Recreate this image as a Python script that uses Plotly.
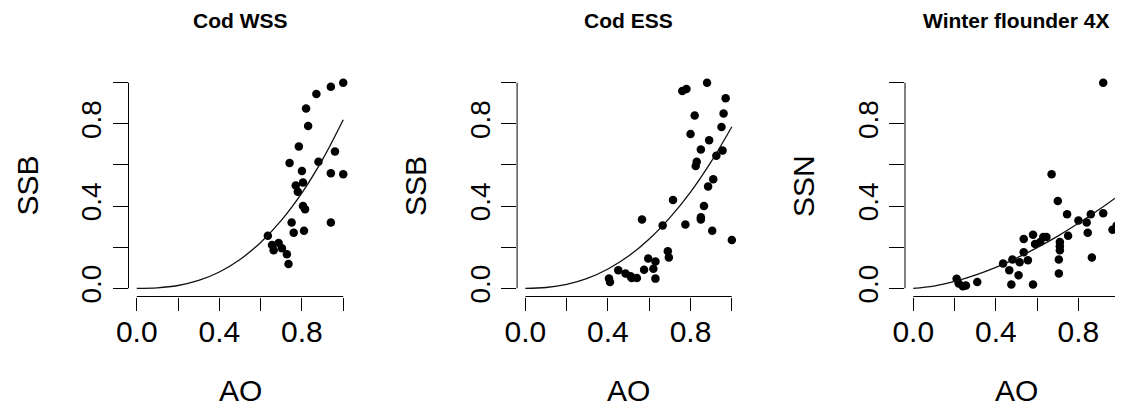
import plotly.graph_objects as go

# ---------------- data ----------------
titles = ["Cod WSS", "Cod ESS", "Winter flounder 4X"]
y_titles = ["SSB", "SSB", "SSN"]
x_title = "AO"

tick_vals = [0.0, 0.2, 0.4, 0.6, 0.8, 1.0]
tick_text = ["0.0", "", "0.4", "", "0.8", ""]

# Cod WSS
wss_ao = [1.0, 0.94, 0.87, 0.82, 0.83, 0.785, 0.74, 0.88, 0.96, 0.80, 0.94, 1.0, 0.805, 0.77,
          0.78, 0.805, 0.815, 0.75, 0.76, 0.81, 0.94, 0.635, 0.655, 0.687, 0.663, 0.703, 0.727, 0.735]
wss_ssb = [1.0, 0.98, 0.945, 0.875, 0.79, 0.69, 0.61, 0.615, 0.665, 0.57, 0.56, 0.555, 0.515, 0.50,
           0.47, 0.40, 0.385, 0.32, 0.27, 0.28, 0.32, 0.255, 0.21, 0.22, 0.185, 0.195, 0.165, 0.118]

# Cod ESS
ess_ao = [0.88, 0.76, 0.78, 0.97, 0.82, 0.96, 0.95, 0.80, 0.89, 0.85, 0.955, 0.925, 0.83, 0.825,
          0.91, 0.885, 0.715, 0.865, 0.565, 0.665, 0.775, 0.85, 0.85, 0.905, 1.0, 0.69, 0.695,
          0.595, 0.63, 0.575, 0.62, 0.63, 0.405, 0.41, 0.45, 0.485, 0.51, 0.515, 0.54]
ess_ssb = [1.0, 0.96, 0.97, 0.925, 0.84, 0.85, 0.785, 0.75, 0.72, 0.675, 0.67, 0.645, 0.615, 0.595,
           0.53, 0.495, 0.43, 0.40, 0.335, 0.305, 0.31, 0.345, 0.335, 0.28, 0.235, 0.18, 0.15,
           0.145, 0.13, 0.09, 0.095, 0.047, 0.048, 0.03, 0.088, 0.072, 0.058, 0.05, 0.05]

# Winter flounder 4X
wf_ao = [0.92, 0.67, 0.70, 0.745, 0.80, 0.84, 0.86, 0.92, 1.0, 0.965, 0.985, 0.845, 0.865, 0.75,
         0.535, 0.58, 0.63, 0.645, 0.59, 0.615, 0.71, 0.71, 0.71, 0.705, 0.705, 0.535, 0.555,
         0.48, 0.515, 0.435, 0.465, 0.51, 0.475, 0.58, 0.31, 0.21, 0.22, 0.24, 0.255]
wf_ssn = [1.0, 0.555, 0.425, 0.36, 0.33, 0.32, 0.36, 0.365, 0.44, 0.285, 0.305, 0.27, 0.15, 0.255,
          0.24, 0.26, 0.25, 0.25, 0.215, 0.225, 0.225, 0.205, 0.185, 0.14, 0.072, 0.175, 0.136,
          0.14, 0.127, 0.12, 0.088, 0.063, 0.018, 0.018, 0.03, 0.046, 0.023, 0.01, 0.013]

# fitted curves
curve_ao = [0.0, 0.1, 0.2, 0.3, 0.4, 0.5, 0.6, 0.7, 0.8, 0.9, 1.0]
wss_fit = [0.0, 0.0023, 0.0135, 0.038, 0.079, 0.140, 0.223, 0.330, 0.464, 0.627, 0.820]
ess_fit = [0.0, 0.0038, 0.0188, 0.048, 0.094, 0.157, 0.240, 0.344, 0.468, 0.616, 0.786]
wf_fit = [0.0, 0.0107, 0.033, 0.064, 0.102, 0.147, 0.198, 0.254, 0.316, 0.383, 0.455]

panels_x = [wss_ao, ess_ao, wf_ao]
panels_y = [wss_ssb, ess_ssb, wf_ssn]
fits = [wss_fit, ess_fit, wf_fit]

# ---------------- layout geometry ----------------
# page has an 8px body margin; figure is sized so it ends at the window edge
OFF = 8
W, H = 1123 - OFF, 406 - OFF
x_ref = [(128.5, 351.5), (517.1, 740.1), (905.0, 1123.0)]   # plot regions in window pixels
y_ref = (74.5, 296.5)
unit = 223.0 / 1.08

FONT = "Liberation Sans, Arial, Helvetica, sans-serif"


def fx(px):
    return (px - OFF) / W


def fy(py):
    return 1 - (py - OFF) / H


fig = go.Figure()
layout = dict(
    width=W, height=H,
    margin=dict(l=0, r=0, t=0, b=0, autoexpand=False),
    paper_bgcolor="white", plot_bgcolor="white",
    showlegend=False,
    font=dict(family=FONT, color="black"),
)
shapes = []
annotations = []

for i in range(3):
    xa = "x" if i == 0 else f"x{i+1}"
    ya = "y" if i == 0 else f"y{i+1}"
    fig.add_trace(go.Scatter(x=panels_x[i], y=panels_y[i], mode="markers",
                             marker=dict(color="black", size=8.5),
                             xaxis=xa, yaxis=ya, cliponaxis=False))
    fig.add_trace(go.Scatter(x=curve_ao, y=fits[i], mode="lines",
                             line=dict(color="#111111", width=1.3, shape="spline"),
                             xaxis=xa, yaxis=ya))
    x0, x1 = x_ref[i]
    xmax = -0.04 + (x1 - x0) / unit
    ax_common = dict(showgrid=False, zeroline=False, showline=False, automargin=False,
                     ticks="outside", tickcolor="black", tickwidth=1,
                     tickvals=tick_vals, ticktext=tick_text)
    layout["xaxis" if i == 0 else f"xaxis{i+1}"] = dict(
        domain=[fx(x0), min(1.0, fx(x1))], range=[-0.04, xmax], anchor=ya,
        ticklen=13, ticklabelstandoff=-5, tickfont=dict(size=30, family=FONT), **ax_common)
    layout["yaxis" if i == 0 else f"yaxis{i+1}"] = dict(
        domain=[fy(y_ref[1]), fy(y_ref[0])], range=[-0.04, 1.04], anchor=xa,
        ticklen=15, tickangle=-90, tickfont=dict(size=28, family=FONT), **ax_common)
    # R-style axis lines spanning first to last tick
    shapes.append(dict(type="line", xref=xa, yref=f"{ya} domain", x0=0, x1=1, y0=0, y1=0,
                       line=dict(color="black", width=1)))
    shapes.append(dict(type="line", xref=f"{xa} domain", yref=ya, x0=0, x1=0, y0=0, y1=1,
                       line=dict(color="black", width=1)))
    cx = x0 + 1.08 * unit / 2
    # panel title
    annotations.append(dict(text=f"<b>{titles[i]}</b>", xref="paper", yref="paper",
                            x=fx(cx), y=fy(20), xanchor="center", yanchor="middle",
                            showarrow=False, font=dict(size=21, family=FONT)))
    # x title
    annotations.append(dict(text=x_title, xref="paper", yref="paper",
                            x=fx(cx), y=fy(390), xanchor="center", yanchor="middle",
                            showarrow=False, font=dict(size=30, family=FONT)))
    # y title
    annotations.append(dict(text=y_titles[i], xref="paper", yref="paper",
                            x=fx(x0 - 102), y=fy(186), xanchor="center", yanchor="middle",
                            textangle=-90, showarrow=False, font=dict(size=30, family=FONT)))

layout["shapes"] = shapes
layout["annotations"] = annotations
fig.update_layout(**layout)
fig.write_html("out.html")
